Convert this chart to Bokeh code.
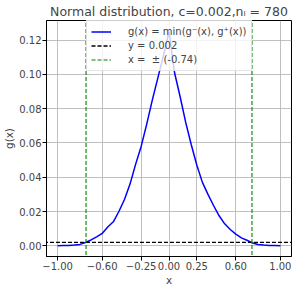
from bokeh.plotting import figure
from bokeh.models import Range1d, FixedTicker
from bokeh.embed import file_html
from bokeh.resources import INLINE

# ---- data ----
x_vals = [-1.00, -0.95, -0.90, -0.85, -0.80, -0.75, -0.70, -0.65, -0.60, -0.55,
          -0.50, -0.45, -0.40, -0.35, -0.30, -0.25, -0.20, -0.15, -0.10, -0.05,
          0.00, 0.05, 0.10, 0.15, 0.20, 0.25, 0.30, 0.35, 0.40, 0.45,
          0.50, 0.55, 0.60, 0.65, 0.70, 0.75, 0.80, 0.85, 0.90, 0.95, 1.00]
g_vals = [0.0000, 0.0001, 0.0002, 0.0004, 0.0008, 0.0019, 0.0034, 0.0052, 0.0072, 0.0110,
          0.0140, 0.0200, 0.0270, 0.0360, 0.0475, 0.0580, 0.0710, 0.0850, 0.0980, 0.1110,
          0.1250, 0.1010, 0.0870, 0.0720, 0.0590, 0.0470, 0.0370, 0.0300, 0.0235, 0.0175,
          0.0128, 0.0095, 0.0068, 0.0046, 0.0032, 0.0016, 0.0008, 0.0004, 0.0002, 0.0001, 0.0000]
c_level = 0.002
x_cut = 0.745

x_ticks = [-1.0, -0.6, -0.25, 0.0, 0.25, 0.6, 1.0]
x_tick_labels = ["\u22121.00", "\u22120.60", "\u22120.25", "0.00", "0.25", "0.60", "1.00"]
y_ticks = [0.0, 0.02, 0.04, 0.06, 0.08, 0.10, 0.12]
y_tick_labels = ["0.00", "0.02", "0.04", "0.06", "0.08", "0.10", "0.12"]

title_text = "Normal distribution, c=0.002,n\u2097 = 780"
label_g = "g(x) = min(g\u207b(x), g\u207a(x))"
label_c = "y = 0.002"
label_x = "x =  \u00b1 (-0.74)"

FONT = "DejaVu Sans"
FRAME_W = 245
FRAME_H = 236

p = figure(frame_width=FRAME_W, frame_height=FRAME_H, output_backend="svg",
           toolbar_location=None,
           x_range=Range1d(-1.1, 1.1), y_range=Range1d(-0.00626, 0.1315),
           title=title_text, min_border_left=20, min_border_right=4,
           min_border_top=0, min_border_bottom=0)

p.title.text_font = FONT
p.title.text_font_size = "12.5px"
p.title.text_font_style = "normal"
p.title.align = "center"
p.title.standoff = 3
p.title.offset = 0

p.line(x_vals, g_vals, line_color="blue", line_width=1.5, legend_label=label_g)
p.line([-1.5, 1.5], [c_level, c_level], line_color="black", line_width=1.3,
       line_dash="4 2", legend_label=label_c)
p.multi_line([[-x_cut, -x_cut], [x_cut, x_cut]], [[-1, 1], [-1, 1]],
             line_color="green", line_width=1.1, line_dash="4 2", legend_label=label_x)

for ax in (p.xaxis[0], p.yaxis[0]):
    ax.major_label_text_font = FONT
    ax.major_label_text_font_size = "10px"
    ax.axis_label_text_font = FONT
    ax.axis_label_text_font_size = "10.4px"
    ax.axis_label_text_font_style = "normal"
    ax.major_tick_in = 0
    ax.major_tick_out = 4
    ax.minor_tick_in = 0
    ax.minor_tick_out = 0
    ax.major_label_standoff = 1
    ax.axis_label_standoff = 1
    ax.axis_line_color = "black"
    ax.major_tick_line_color = "black"

p.xaxis.ticker = FixedTicker(ticks=x_ticks)
p.yaxis.ticker = FixedTicker(ticks=y_ticks)
p.xaxis.major_label_overrides = {t: l for t, l in zip(x_ticks, x_tick_labels)}
p.yaxis.major_label_overrides = {t: l for t, l in zip(y_ticks, y_tick_labels)}
p.xaxis.axis_label = "x"
p.yaxis.axis_label = "g(x)"

p.xgrid.grid_line_color = "#b0b0b0"
p.ygrid.grid_line_color = "#b0b0b0"
p.xgrid.grid_line_alpha = 0.8
p.ygrid.grid_line_alpha = 0.8
p.outline_line_color = "black"
p.outline_line_width = 1
p.outline_line_alpha = 1

LEG_H = 3 * 13 + 2 * 1 + 2 * 4
lg = p.legend[0]
lg.location = (40, FRAME_H - 2 - LEG_H)
lg.label_text_font = FONT
lg.label_text_font_size = "10px"
lg.padding = 4
lg.spacing = 1
lg.margin = 0
lg.glyph_width = 20
lg.glyph_height = 13
lg.label_height = 13
lg.label_standoff = 17
lg.border_line_color = "#cccccc"
lg.border_line_width = 1
lg.background_fill_alpha = 0.8

open("out.html", "w").write(file_html(p, INLINE))
